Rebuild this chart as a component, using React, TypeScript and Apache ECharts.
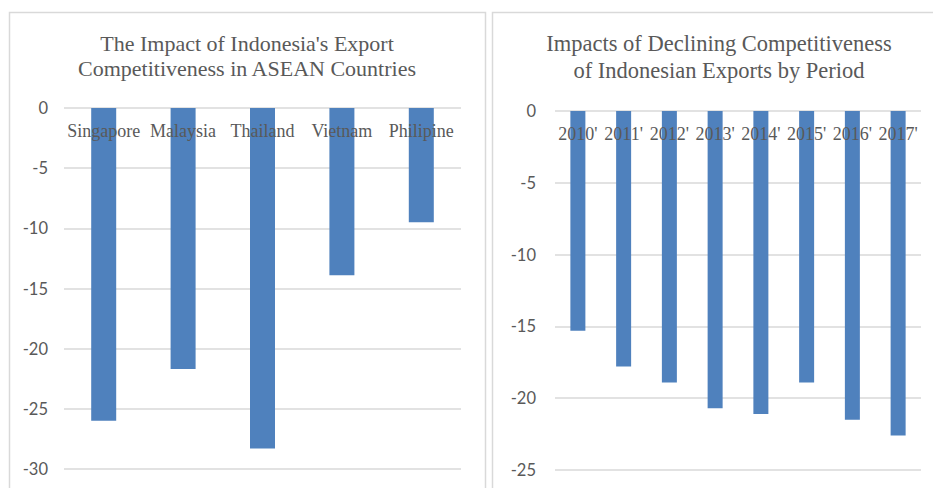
import React, { useEffect, useRef } from "react";
import * as echarts from "echarts";

const countries = ["Singapore", "Malaysia", "Thailand", "Vietnam", "Philipine"];
const countryValues = [-26.0, -21.7, -28.3, -13.9, -9.5];
const periods = ["2010'", "2011'", "2012'", "2013'", "2014'", "2015'", "2016'", "2017'"];
const periodValues = [-15.3, -17.8, -18.9, -20.7, -21.1, -18.9, -21.5, -22.6];
const leftTitle = "The Impact of Indonesia's Export\nCompetitiveness in ASEAN Countries";
const rightTitle = "Impacts of Declining Competitiveness\nof Indonesian Exports by Period";

const GRAY = "#595959";
const GRID = "#d9d9d9";
const BLUE = "#4f81bd";
const SERIF = "'Liberation Serif', 'Times New Roman', serif";
const SANS = "Lato, 'Open Sans', sans-serif";

export default function App() {
  const ref = useRef<HTMLDivElement>(null);
  useEffect(() => {
    if (!ref.current) return;
    const chart = echarts.init(ref.current, null, { renderer: "svg" });
    const xAxisCommon = (data: string[], gridIndex: number) => ({
      type: "category" as const,
      gridIndex,
      data,
      position: "top" as const,
      z: 10,
      axisLine: { show: false },
      axisTick: { show: false },
      axisLabel: {
        inside: true,
        margin: 14,
        color: GRAY,
        fontFamily: SERIF,
        fontSize: 18,
        interval: 0,
      },
      splitLine: { show: false },
    });
    const yAxisCommon = (min: number, gridIndex: number, margin: number) => ({
      type: "value" as const,
      gridIndex,
      min,
      max: 0,
      interval: 5,
      axisLine: { show: false },
      axisTick: { show: false },
      axisLabel: { color: GRAY, fontFamily: SANS, fontSize: 16.5, margin },
      splitLine: { lineStyle: { color: GRID, width: 1.5 } },
    });
    chart.setOption({
      animation: false,
      title: [
        {
          text: leftTitle,
          left: 247,
          top: 31,
          padding: 0,
          textAlign: "center",
          textStyle: {
            color: GRAY,
            fontFamily: SERIF,
            fontWeight: "normal",
            fontSize: 22,
            lineHeight: 25,
          },
        },
        {
          text: rightTitle,
          left: 719,
          top: 30,
          padding: 0,
          textAlign: "center",
          textStyle: {
            color: GRAY,
            fontFamily: SERIF,
            fontWeight: "normal",
            fontSize: 22.5,
            lineHeight: 27,
          },
        },
      ],
      graphic: [
        {
          type: "rect",
          shape: { x: 9.5, y: 12.5, width: 476, height: 520 },
          style: { fill: "none", stroke: GRID, lineWidth: 1.5 },
          silent: true,
        },
        {
          type: "rect",
          shape: { x: 492.5, y: 12.5, width: 470, height: 520 },
          style: { fill: "none", stroke: GRID, lineWidth: 1.5 },
          silent: true,
        },
      ],
      grid: [
        { left: 64, top: 108, width: 397, height: 361 },
        { left: 555, top: 111, width: 366, height: 359 },
      ],
      xAxis: [xAxisCommon(countries, 0), xAxisCommon(periods, 1)],
      yAxis: [yAxisCommon(-30, 0, 16), yAxisCommon(-25, 1, 19)],
      series: [
        {
          type: "bar",
          xAxisIndex: 0,
          yAxisIndex: 0,
          data: countryValues,
          barWidth: 25,
          itemStyle: { color: BLUE },
        },
        {
          type: "bar",
          xAxisIndex: 1,
          yAxisIndex: 1,
          data: periodValues,
          barWidth: 15,
          itemStyle: { color: BLUE },
        },
      ],
    });
    return () => chart.dispose();
  }, []);
  return (
    <div
      ref={ref}
      style={{ position: "fixed", left: 0, top: 0, width: 933, height: 488, background: "#fff" }}
    />
  );
}
